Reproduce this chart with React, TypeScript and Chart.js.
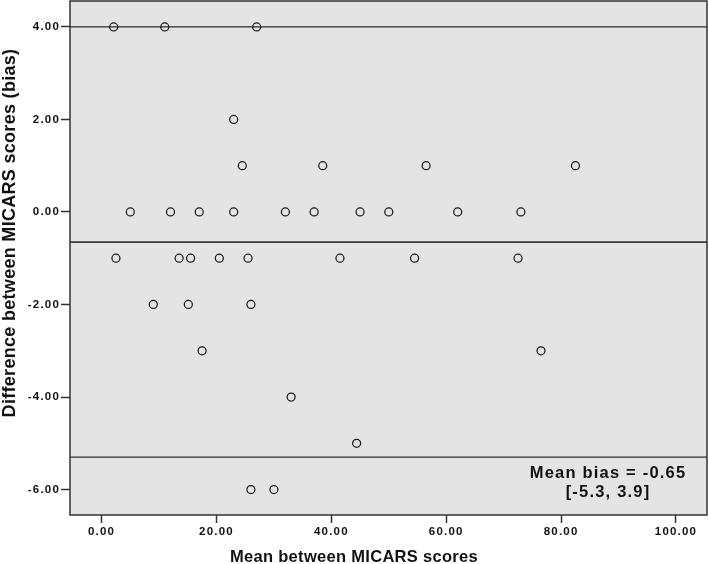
import React, { useEffect, useRef } from "react";
import { Chart, registerables } from "chart.js";

Chart.register(...registerables);

// Mean between MICARS scores (x) and difference (bias, y)
const meanScores = [
  2.1, 11.0, 27.0,
  23.0,
  24.5, 38.5, 56.5, 82.5,
  5.0, 12.0, 17.0, 23.0, 32.0, 37.0, 45.0, 50.0, 62.0, 73.0,
  2.5, 13.5, 15.5, 20.5, 25.5, 41.5, 54.5, 72.5,
  9.0, 15.1, 26.0,
  17.5, 76.5,
  33.0,
  44.4,
  26.0, 30.0,
];
const biasValues = [
  4, 4, 4,
  2,
  1, 1, 1, 1,
  0, 0, 0, 0, 0, 0, 0, 0, 0, 0,
  -1, -1, -1, -1, -1, -1, -1, -1,
  -2, -2, -2,
  -3, -3,
  -4,
  -5,
  -6, -6,
];

const meanBias = -0.65;
const lowerLimit = -5.3;
const upperLimit = 4.0;

const xTicks = [0, 20, 40, 60, 80, 100];
const yTicks = [-6, -4, -2, 0, 2, 4];
const xRange = [-5.5, 105.4];
const yRange = [-6.55, 4.56];

const xTitle = "Mean between MICARS scores";
const yTitle = "Difference between MICARS scores (bias)";
const annotationLines = ["Mean bias = -0.65", "[-5.3, 3.9]"];

const FONT = "'Liberation Sans', Arial, Helvetica, sans-serif";
const TEXT = "#111111";

const decorPlugin = {
  id: "decor",
  beforeLayout(chart: any) {
    chart.ctx.letterSpacing = "1.2px";
  },
  beforeDraw(chart: any) {
    const { ctx, chartArea } = chart;
    ctx.letterSpacing = "1.2px";
    ctx.save();
    ctx.fillStyle = "#e4e4e4";
    ctx.fillRect(chartArea.left, chartArea.top, chartArea.right - chartArea.left, chartArea.bottom - chartArea.top);
    ctx.restore();
  },
  beforeDatasetsDraw(chart: any) {
    const { ctx, chartArea, scales } = chart;
    const y = scales.y;
    ctx.save();
    const lines = [
      { v: upperLimit, w: 1.3, c: "#2a2a2a" },
      { v: meanBias, w: 1.7, c: "#3a3a3a" },
      { v: lowerLimit, w: 1.3, c: "#2a2a2a" },
    ];
    for (const l of lines) {
      const py = y.getPixelForValue(l.v);
      ctx.strokeStyle = l.c;
      ctx.lineWidth = l.w;
      ctx.beginPath();
      ctx.moveTo(chartArea.left, py);
      ctx.lineTo(chartArea.right, py);
      ctx.stroke();
    }
    ctx.restore();
  },
  afterDraw(chart: any) {
    const { ctx, chartArea } = chart;
    ctx.save();
    // plot border
    ctx.strokeStyle = "#333333";
    ctx.lineWidth = 1.5;
    ctx.strokeRect(chartArea.left, chartArea.top, chartArea.right - chartArea.left, chartArea.bottom - chartArea.top);

    ctx.fillStyle = TEXT;
    // annotation
    ctx.letterSpacing = "1.2px";
    ctx.font = `bold 16.5px ${FONT}`;
    ctx.textAlign = "center";
    ctx.textBaseline = "middle";
    ctx.fillText(annotationLines[0], 608, 473);
    ctx.fillText(annotationLines[1], 608, 492);

    // x title
    ctx.letterSpacing = "0.3px";
    ctx.font = `bold 16.5px ${FONT}`;
    ctx.textBaseline = "alphabetic";
    ctx.fillText(xTitle, 354, 562);

    // y title
    ctx.font = `bold 18px ${FONT}`;
    ctx.translate(10, 233);
    ctx.rotate(-Math.PI / 2);
    ctx.textBaseline = "middle";
    ctx.fillText(yTitle, 0, 0);
    ctx.restore();
  },
};

export default function App() {
  const canvasRef = useRef<HTMLCanvasElement | null>(null);

  useEffect(() => {
    if (!canvasRef.current) return;
    const points = meanScores.map((x, i) => ({ x, y: biasValues[i] }));
    const chart = new Chart(canvasRef.current, {
      type: "scatter",
      data: {
        datasets: [
          {
            data: points,
            pointStyle: "circle",
            pointRadius: 4,
            pointBorderWidth: 1.25,
            pointBorderColor: "#1a1a1a",
            pointBackgroundColor: "rgba(0,0,0,0)",
            showLine: false,
          } as any,
        ],
      },
      options: {
        animation: false,
        responsive: false,
        devicePixelRatio: 1,
        layout: { autoPadding: false, padding: { top: 1, right: 2, left: 0, bottom: 0 } },
        plugins: { legend: { display: false }, tooltip: { enabled: false } },
        scales: {
          x: {
            type: "linear",
            min: xRange[0],
            max: xRange[1],
            afterBuildTicks: (s: any) => {
              s.ticks = xTicks.map((v) => ({ value: v }));
            },
            afterFit: (s: any) => {
              s.height = 49;
              s.paddingLeft = 0;
              s.paddingRight = 0;
            },
            grid: { drawOnChartArea: false, drawTicks: true, tickLength: 8, tickColor: "#333333", tickWidth: 1.5 },
            border: { display: false },
            ticks: {
              padding: 2,
              maxRotation: 0,
              autoSkip: false,
              color: TEXT,
              font: { family: FONT, size: 11.5, weight: "bold" },
              callback: (v: any) => Number(v).toFixed(2),
            },
          },
          y: {
            type: "linear",
            min: yRange[0],
            max: yRange[1],
            afterBuildTicks: (s: any) => {
              s.ticks = yTicks.map((v) => ({ value: v }));
            },
            afterFit: (s: any) => {
              s.width = 70;
              s.paddingTop = 0;
              s.paddingBottom = 0;
            },
            grid: { drawOnChartArea: false, drawTicks: true, tickLength: 9, tickColor: "#333333", tickWidth: 1.5 },
            border: { display: false },
            ticks: {
              padding: 1,
              autoSkip: false,
              color: TEXT,
              font: { family: FONT, size: 11.5, weight: "bold" },
              callback: (v: any) => Number(v).toFixed(2),
            },
          },
        },
      },
      plugins: [decorPlugin],
    });
    return () => chart.destroy();
  }, []);

  return (
    <div style={{ position: "absolute", left: 0, top: 0, width: 709, height: 564, background: "#ffffff" }}>
      <canvas ref={canvasRef} width={709} height={564} style={{ display: "block" }} />
    </div>
  );
}
